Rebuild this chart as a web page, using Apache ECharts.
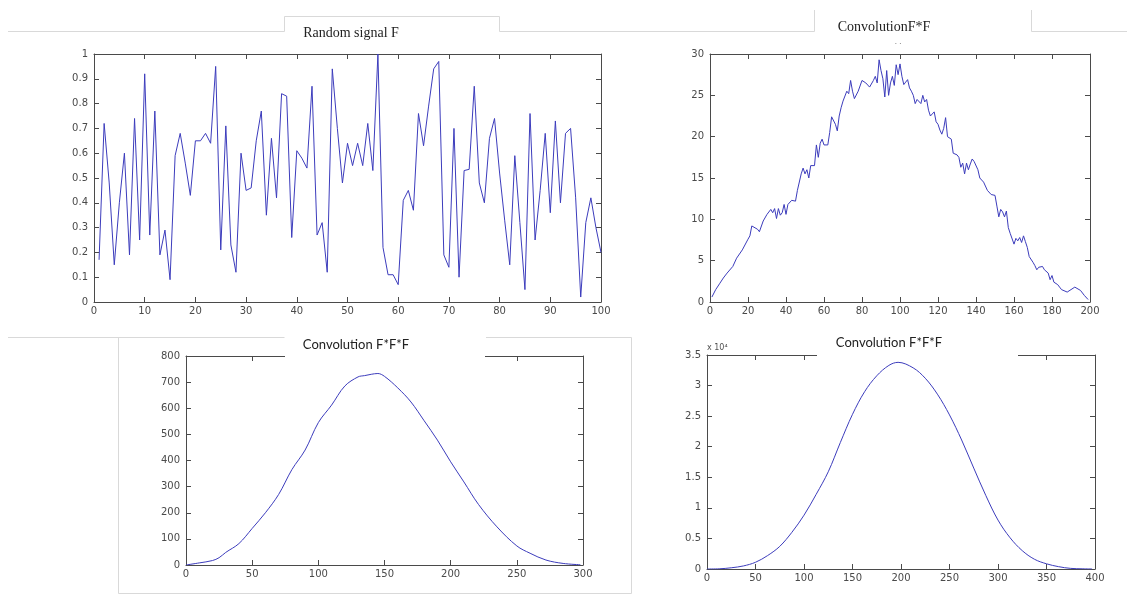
<!DOCTYPE html>
<html>
<head>
<meta charset="utf-8">
<script src="https://cdn.jsdelivr.net/npm/echarts@6/dist/echarts.min.js"></script>
<style>
html,body{margin:0;padding:0;background:#fff;}
#chart{width:1127px;height:595px;}
</style>
</head>
<body>
<div id="chart"></div>
<script>
// ---- Data ----
const titles = ['Random signal F', 'ConvolutionF*F', 'Convolution F*F*F', 'Convolution F*F*F'];

// Random signal F, x = 1..100
const signalX = Array.from({length: 100}, (_, i) => i + 1);
const signalY = [0.17,0.72,0.48,0.15,0.40,0.60,0.19,0.74,0.25,0.92,
  0.27,0.77,0.19,0.29,0.09,0.59,0.68,0.56,0.43,0.65,
  0.65,0.68,0.64,0.95,0.21,0.71,0.23,0.12,0.60,0.45,
  0.46,0.65,0.77,0.35,0.66,0.42,0.84,0.83,0.26,0.61,
  0.58,0.54,0.87,0.27,0.32,0.12,0.94,0.70,0.48,0.64,
  0.55,0.64,0.55,0.72,0.53,1.00,0.22,0.11,0.11,0.07,
  0.41,0.45,0.37,0.76,0.63,0.79,0.94,0.97,0.19,0.14,
  0.70,0.10,0.53,0.535,0.87,0.48,0.40,0.66,0.74,0.52,
  0.33,0.15,0.59,0.32,0.05,0.76,0.25,0.45,0.68,0.36,
  0.73,0.40,0.68,0.70,0.42,0.02,0.32,0.42,0.30,0.20];

// Convolution F*F
const conv2X = [1,3,5,6,7,9,10,12,14,15,17,20,21,22,23,25,26,28,29,30,32,33,34,35,36,37,38,39,40,41,43,45,46,48,49,50,51,52,53,55,56,57,58,59,60,62,63,64,65,66,67,68,69,70,72,73,74,75,76,78,80,82,84,86,87,88,89,90,91,92,93,94,95,96,97,98,99,100,101,102,103,104,105,106,107,108,109,110,111,112,113,114,115,116,117,118,119,120,121,122,123,124,125,126,127,128,130,131,132,133,134,135,136,137,138,139,140,141,142,144,146,148,150,151,152,153,154,155,156,157,158,159,160,161,162,163,164,165,166,167,168,169,170,171,172,173,174,175,176,177,178,179,180,181,182,183,184,185,186,188,190,192,193,195,197,199];
const conv2Y = [0.6,1.5,2.2,2.0,2.9,3.5,3.3,4.3,5.3,5.2,6.3,7.6,8.0,9.2,9.4,8.8,8.5,9.8,9.7,10.6,11.2,10.8,11.3,10.1,11.3,10.5,10.8,11.8,10.6,11.8,12.3,12.2,13.5,15.5,16.2,15.5,16.0,15.0,16.5,16.5,19.0,17.5,19.2,19.7,19.0,19.0,20.5,22.4,22.2,21.5,20.7,22.5,23.5,24.3,25.5,25.2,26.8,25.5,24.6,25.5,26.8,26.5,26.0,26.8,27.3,26.5,29.3,28.0,27.0,24.8,28.0,25.0,26.5,27.3,26.2,28.7,27.5,28.8,27.3,26.3,26.6,26.9,25.9,25.5,25.0,24.0,24.5,24.5,24.0,25.0,24.2,24.5,23.2,22.5,22.6,23.0,21.8,21.5,20.8,20.3,21.0,22.3,20.0,20.0,19.7,18.0,17.8,17.5,16.3,16.8,15.5,16.8,16.0,16.7,17.3,17.0,16.8,16.0,15.0,14.5,13.5,13.0,12.9,11.6,10.3,11.2,10.9,10.3,11.0,9.0,8.3,8.4,7.0,7.7,7.4,7.8,7.2,8.0,7.3,6.6,5.5,5.3,4.8,4.4,3.9,4.2,4.0,4.3,3.9,4.0,3.5,2.7,3.2,2.4,2.2,2.1,1.8,1.5,1.4,1.2,1.5,1.8,1.9,1.4,0.8,0.3];

// Convolution F*F*F (bottom left)
const conv3X = [0,10,20,25,30,40,50,60,70,80,90,100,110,120,130,135,140,145,150,160,170,180,190,200,210,221,235,250,260,272,285,298];
const conv3Y = [0,8,17,28,48,82,140,200,270,365,440,545,612,685,720,725,730,733,722,678,624,552,478,395,318,232,146,73,45,19,6,1];

// Convolution F*F*F (bottom right), values in raw units (axis shows x 10^4)
const conv4X = [0,12.5,25,37.5,50,62.5,75,87.5,100,112.5,125,137.5,150,162.5,175,187.5,197,212.5,225,237.5,250,262.5,275,287.5,300,312.5,325,337.5,350,362.5,375,387.5,397];
const conv4Y = [0,30,200,500,1100,2200,3700,6000,8800,12200,15900,20700,25300,29000,31600,33300,33800,32900,31200,28600,25200,21100,16500,12000,8000,5100,3000,1600,850,380,100,30,0];

// Axis ranges
const xRanges = [[0,100,10],[0,200,20],[0,300,50],[0,400,50]];
const yRanges = [[0,1,0.1],[0,30,5],[0,800,100],[0,35000,5000]];

// ---- Layout ----
const grids = [
  {left: 94, top: 54, width: 507, height: 248},
  {left: 710, top: 54, width: 380, height: 248},
  {left: 186, top: 356, width: 397, height: 209},
  {left: 707, top: 355, width: 388, height: 214}
];
const axisColor = '#4a4a4a';
const labelStyle = {color: '#4a4a4a', fontSize: 10, fontFamily: 'DejaVu Sans'};
const lineColor = '#3c3cbc';

const xAxes = [], yAxes = [], series = [];
const datasets = [[signalX, signalY], [conv2X, conv2Y], [conv3X, conv3Y], [conv4X, conv4Y]];

grids.forEach((g, i) => {
  const [xmin, xmax, xint] = xRanges[i];
  const [ymin, ymax, yint] = yRanges[i];
  const common = {
    type: 'value', gridIndex: i, splitLine: {show: false},
    axisLine: {show: true, onZero: false, lineStyle: {color: axisColor, width: 1}},
    axisTick: {show: true, inside: true, length: 5, lineStyle: {color: axisColor}}
  };
  xAxes.push(Object.assign({}, common, {position: 'bottom', min: xmin, max: xmax, interval: xint,
    axisLabel: Object.assign({margin: 4}, labelStyle)}));
  xAxes.push(Object.assign({}, common, {position: 'top', min: xmin, max: xmax, interval: xint,
    axisLabel: {show: false}}));
  const ylab = Object.assign({margin: 6}, labelStyle);
  if (i === 3) ylab.formatter = v => String(+(v / 10000).toFixed(1));
  yAxes.push(Object.assign({}, common, {position: 'left', min: ymin, max: ymax, interval: yint,
    axisLabel: ylab}));
  yAxes.push(Object.assign({}, common, {position: 'right', min: ymin, max: ymax, interval: yint,
    axisLabel: {show: false}}));
  const [dx, dy] = datasets[i];
  series.push({
    type: 'line', xAxisIndex: 2 * i, yAxisIndex: 2 * i,
    data: dx.map((x, k) => [x, dy[k]]),
    showSymbol: false, symbol: 'none',
    smooth: i >= 2 ? 0.35 : false,
    lineStyle: {color: lineColor, width: 1},
    animation: false, z: 2
  });
});

const frame = {stroke: '#d9d9d9', lineWidth: 1, fill: null};
const graphic = [
  {type: 'polyline', z: 50, shape: {points: [[8,31.5],[284.5,31.5],[284.5,16.5],[499.5,16.5],[499.5,31.5],[814.5,31.5],[814.5,10]]}, style: frame},
  {type: 'polyline', z: 50, shape: {points: [[1031.5,10],[1031.5,31.5],[1127,31.5]]}, style: frame},
  {type: 'polyline', z: 50, shape: {points: [[8,337.5],[284.5,337.5]]}, style: frame},
  {type: 'polyline', z: 50, shape: {points: [[486,337.5],[631.5,337.5],[631.5,593.5],[118.5,593.5],[118.5,337.5]]}, style: frame},
  {type: 'rect', z: 60, shape: {x: 285, y: 338, width: 200, height: 24}, style: {fill: '#ffffff'}},
  {type: 'rect', z: 60, shape: {x: 817, y: 338, width: 201, height: 23}, style: {fill: '#ffffff'}},
  {type: 'text', z: 70, style: {text: titles[0], x: 351, y: 33, textAlign: 'center', textVerticalAlign: 'middle', fill: '#222', fontSize: 14, fontFamily: 'Liberation Serif'}},
  {type: 'text', z: 70, style: {text: titles[1], x: 884, y: 27, textAlign: 'center', textVerticalAlign: 'middle', fill: '#222', fontSize: 14, fontFamily: 'Liberation Serif'}},
  {type: 'text', z: 70, style: {text: '. .', x: 898, y: 42, textAlign: 'center', textVerticalAlign: 'middle', fill: '#666', fontSize: 9, fontFamily: 'Liberation Serif'}},
  {type: 'text', z: 70, style: {text: titles[2], x: 356, y: 345, textAlign: 'center', textVerticalAlign: 'middle', fill: '#222', fontSize: 13, fontFamily: 'Lato'}},
  {type: 'text', z: 70, style: {text: titles[3], x: 889, y: 343, textAlign: 'center', textVerticalAlign: 'middle', fill: '#222', fontSize: 13, fontFamily: 'Lato'}},
  {type: 'text', z: 70, style: {text: 'x 10⁴', x: 707, y: 348, textAlign: 'left', textVerticalAlign: 'middle', fill: '#505050', fontSize: 8, fontFamily: 'DejaVu Sans'}}
];

const chart = echarts.init(document.getElementById('chart'), null, {renderer: 'canvas'});
chart.setOption({
  animation: false,
  backgroundColor: '#ffffff',
  grid: grids.map(g => Object.assign({containLabel: false}, g)),
  xAxis: xAxes,
  yAxis: yAxes,
  series: series,
  graphic: graphic
});
</script>
</body>
</html>
